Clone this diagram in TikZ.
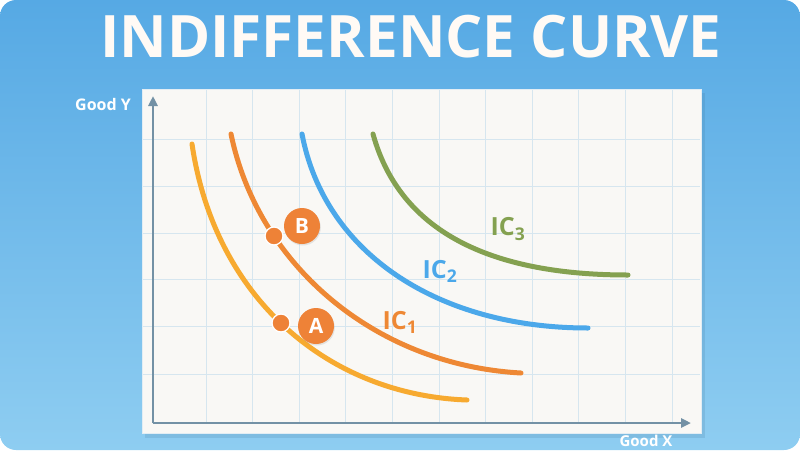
\documentclass[tikz,border=0pt]{standalone}
\usepackage{fontspec}
\setmainfont{Open Sans}
\usetikzlibrary{arrows.meta, positioning, shadows}

\definecolor{skytop}{HTML}{56A9E4}
\definecolor{skybottom}{HTML}{8ECDF1}
\definecolor{paper}{HTML}{F9F8F5}
\definecolor{gridblue}{HTML}{D6E6EF}
\definecolor{axisgray}{HTML}{7391A5}
\definecolor{icyellow}{HTML}{F7AA30}
\definecolor{icorange}{HTML}{EE8834}
\definecolor{icblue}{HTML}{4BA8EA}
\definecolor{icgreen}{HTML}{84A150}
\definecolor{dotorange}{HTML}{EE8237}

\begin{document}
\begin{tikzpicture}[
      x=1pt, y=-1pt,
      curve/.style={line width=5pt, line cap=round},
      axis/.style={draw=axisgray, line width=2.6pt, -{Triangle[length=10pt, width=9pt]}},
      dotmark/.style={circle, fill=dotorange, draw=white, line width=1.3pt, minimum size=18pt, inner sep=0pt},
      tag/.style={circle, fill=dotorange, text=white, minimum size=36pt, inner sep=0pt,
        font=\fontsize{21}{21}\selectfont\bfseries,
        drop shadow={opacity=0.18, shadow xshift=0.8pt, shadow yshift=-1.5pt}},
      iclabel/.style={font=\fontsize{25}{25}\selectfont\bfseries},
      axislabel/.style={text=white, font=\fontsize{16}{16}\selectfont\bfseries}
    ]
    \useasboundingbox (0,0) rectangle (800,450);
    % background
    \shade[top color=skytop, bottom color=skybottom, rounded corners=16pt] (0,0) rectangle (800,450);

    % title
    \node[anchor=base, text=white!96!orange, font=\fontsize{58.5}{58.5}\selectfont\bfseries] (title) at (411,57) {INDIFFERENCE CURVE};

    % paper panel
    \fill[skytop!60!black, opacity=0.15] (145,93) rectangle (705,438);
    \draw[fill=paper, draw=gridblue!70!white, line width=1pt] (142,89) rectangle (701,433);
    \foreach \gx in {206,252.6,299.2,345.8,392.4,439,485.6,532.2,578.8,625.4,672}
      \draw[gridblue, line width=1pt] (\gx,90) -- (\gx,423);
    \foreach \gy in {139,186,233,279.5,326.5,374}
      \draw[gridblue, line width=1pt] (143,\gy) -- (700,\gy);

    % axes
    \coordinate (origin) at (153,423);
    \coordinate (ytip) at (153,96);
    \coordinate (xtip) at (691,423);
    \draw[axis] (origin) -- (ytip);
    \draw[axis] (origin) -- (xtip);
    \node[axislabel] (goody) at (103,104) {Good Y};
    \node[axislabel, anchor=base, inner sep=0pt, font=\fontsize{15}{15}\selectfont\bfseries] (goodx) at (646,446) {Good X};

    % indifference curves
    \draw[curve, icyellow] (192,144) .. controls (215,300) and (330,395) .. (467,400);
    \draw[curve, icorange] (231,134) .. controls (258,265) and (375,365) .. (521,373);
    \draw[curve, icblue] (302,134) .. controls (325,255) and (440,328) .. (588,328);
    \draw[curve, icgreen] (373,134) .. controls (398,225) and (480,275) .. (628,275);

    \node[iclabel, text=icorange] (ic1) at (400,322) {IC\textsubscript{1}};
    \node[iclabel, text=icblue] (ic2) at (440,271) {IC\textsubscript{2}};
    \node[iclabel, text=icgreen] (ic3) at (508,229) {IC\textsubscript{3}};

    % bundles
    \node[dotmark] (pta) at (281,323) {};
    \node[dotmark] (ptb) at (274,236) {};
    \node[tag] (taga) at (316,326) {A};
    \node[tag] (tagb) at (302,226) {B};
  \end{tikzpicture}
\end{document}
